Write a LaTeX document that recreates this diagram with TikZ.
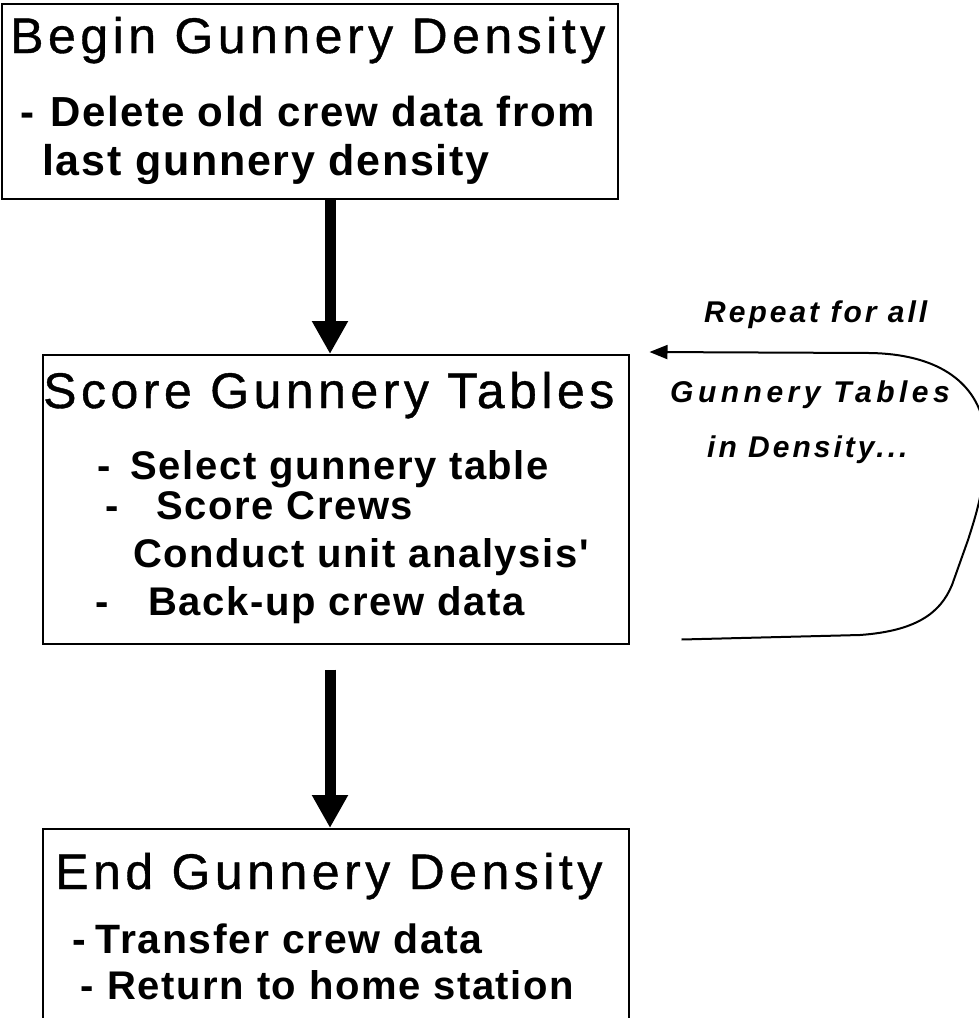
\documentclass[tikz,border=0pt]{standalone}
\usepackage{fontspec}
\setmainfont{Liberation Sans}
\newfontfamily\titlefont[LetterSpace=9,FakeBold=0.8]{Liberation Sans}
\newfontfamily\itemfont[LetterSpace=4]{Liberation Sans}
\newfontfamily\notefont[LetterSpace=10]{Liberation Sans}
\usetikzlibrary{arrows.meta}

\begin{document}
\begin{tikzpicture}[
    x=1pt,y=-1pt,
    boxNode/.style={draw,line width=1.5pt,anchor=north west,inner sep=0pt,minimum width=#1},
    titleText/.style={anchor=base west,inner sep=0pt,font=\titlefont\fontsize{50}{60}\selectfont},
    itemText/.style={anchor=base west,inner sep=0pt,font=\itemfont\bfseries\fontsize{#1}{48}\selectfont},
    itemText/.default=40,
    noteText/.style={anchor=base west,inner sep=0pt,font=\notefont\bfseries\itshape\fontsize{30}{36}\selectfont},
    flowArrow/.style={line width=11pt,-{Triangle[length=33pt,width=34pt]}},
    loopArrow/.style={line width=2pt,-{Triangle[length=18pt,width=14pt]}}
  ]
    \useasboundingbox (0,0) rectangle (979,1018);

    % the three boxes
    \node[boxNode=616pt,minimum height=195pt] (beginBox) at (1,3) {};
    \node[boxNode=586pt,minimum height=289pt] (scoreBox) at (42,354) {};
    \node[boxNode=586pt,minimum height=230pt] (endBox) at (42,828) {};

    % texts in the boxes
    \node[titleText] (beginTitle) at (10,53) {Begin Gunnery Density};
    \node[itemText=42] (deleteItem) at (20,126) {-\hspace{16pt}Delete old crew data from};
    \node[itemText=43] (lastItem) at (42,175) {last gunnery density};

    \node[titleText] (scoreTitle) at (43,408) {Score Gunnery Tables};
    \node[itemText] (selectItem) at (97,479) {-\hspace{20pt}Select gunnery table};
    \node[itemText] (crewsItem) at (105,519) {-\hspace{38pt}Score Crews};
    \node[itemText] (conductItem) at (133,567) {Conduct unit analysis'};
    \node[itemText] (backupItem) at (95,615) {-\hspace{40pt}Back-up crew data};

    \node[titleText] (endTitle) at (55,889) {End Gunnery Density};
    \node[itemText=41] (transferItem) at (72,953) {-\hspace{10pt}Transfer crew data};
    \node[itemText] (returnItem) at (80,999) {-\hspace{14pt}Return to home station};

    % flow between the boxes
    \coordinate (axis) at (330,0);
    \draw[flowArrow] (beginBox.south -| axis) -- (scoreBox.north -| axis);
    \draw[flowArrow,shorten <=25pt] (scoreBox.south -| axis) -- (endBox.north -| axis);

    % repeat loop
    \node[noteText] (repeatNote) at (704,322) {Repeat for all};
    \node[noteText] (tablesNote) at (670,402) {\addfontfeatures{LetterSpace=15}Gunnery Tables};
    \node[noteText] (densityNote) at (707,457) {in Density...};
    \coordinate (loopStart) at ([xshift=52pt,yshift=5pt]scoreBox.south east);
    \coordinate (loopTip) at ([xshift=20pt,yshift=2pt]scoreBox.north east);
    \draw[loopArrow] (loopStart) -- (860,635)
      .. controls (915,631) and (940,614) .. (952,585) -- (968,540)
      .. controls (976,515) and (984,490) .. (984,460) -- (984,425)
      .. controls (975,380) and (935,354) .. (870,353) -- (loopTip);
\end{tikzpicture}
\end{document}
